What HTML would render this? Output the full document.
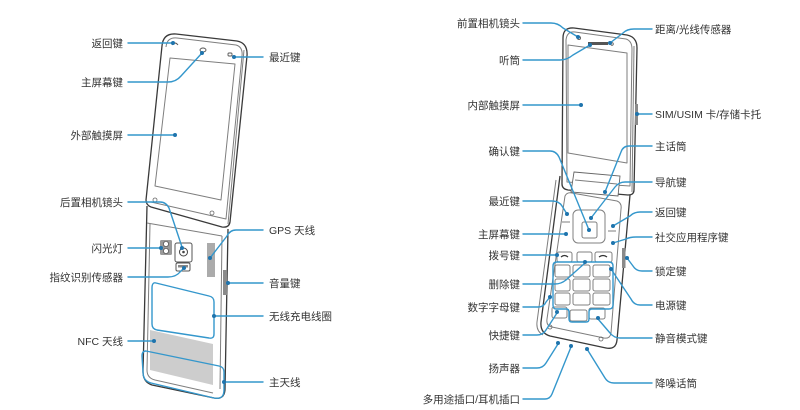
<!DOCTYPE html>
<html><head><meta charset="utf-8"><style>
html,body{margin:0;padding:0;background:#fff;}
svg{display:block;}
text{font-family:"Liberation Sans","Noto Sans CJK SC",sans-serif;font-size:10.5px;fill:#333;}
.ph{fill:none;stroke:#3a3a3a;stroke-width:1.3;stroke-linejoin:round;}
.pl{fill:none;stroke:#7e7e7e;stroke-width:1;stroke-linejoin:round;}
.bl{fill:none;stroke:#3497cc;stroke-width:1.4;stroke-linejoin:round;stroke-linecap:round;}
.dt{fill:#1f74ad;}
.ky{fill:#fff;stroke:#808080;stroke-width:1;}
</style></head><body>
<svg width="800" height="410" viewBox="0 0 800 410" xmlns="http://www.w3.org/2000/svg">
<!-- ========== LEFT PHONE ========== -->
<path class="ph" d="M147,206 L143,372 Q143,382 152,385 L214,398 Q224,400 225,390 L228,229"/>
<path class="pl" d="M147,223 L222,236"/>
<path class="pl" d="M222,236 L220,389"/>
<path class="pl" d="M150,224 L147,370 Q147,378 155,380 L213,393"/>
<polygon points="150,330 213,344 213,385 150,370" fill="#cdcdcd"/>
<rect x="160" y="240" width="12" height="15" rx="1.5" fill="#9a9a9a"/>
<circle cx="166" cy="244" r="2.6" fill="#fff" stroke="#555" stroke-width="0.8"/>
<circle cx="166" cy="251" r="2.6" fill="#fff" stroke="#555" stroke-width="0.8"/>
<rect x="175" y="243" width="17" height="19" rx="2" fill="#fff" stroke="#555" stroke-width="1"/>
<circle cx="183.5" cy="252" r="4" fill="#fff" stroke="#444" stroke-width="1"/>
<circle cx="183.5" cy="252" r="1.3" fill="#444"/>
<rect x="176" y="263" width="14" height="8" rx="1.5" fill="#fff" stroke="#555" stroke-width="1"/>
<rect x="178" y="265" width="10" height="2.5" fill="#888"/>
<rect x="207" y="243" width="8" height="34" fill="#ababab"/>
<rect x="223" y="270" width="4" height="25" fill="#8a8a8a"/>
<path d="M162,46 Q163,33 176,34 L237,41 Q248,43 247,56 L230,222 Q229,228 222,227 L151,207 Q146,205 146,200 Z" fill="#fff" stroke="#3a3a3a" stroke-width="1.3"/>
<path class="pl" d="M166,47 Q167,37 177,38 L236,45 Q243,47 242,56 L226,219 L151,202"/>
<path class="pl" d="M244,50 L228,224"/>
<polygon class="pl" points="170,58 235,64 221,200 155,186"/>
<path d="M172,45 q3,-4 6,0" fill="none" stroke="#555" stroke-width="0.9"/>
<ellipse cx="203" cy="50" rx="3" ry="2" fill="none" stroke="#555" stroke-width="0.9"/>
<rect x="228" y="53" width="4" height="3" rx="1" fill="none" stroke="#555" stroke-width="0.9"/>
<circle cx="155" cy="200" r="2" fill="none" stroke="#666" stroke-width="0.8"/>
<circle cx="212" cy="213" r="2" fill="none" stroke="#666" stroke-width="0.8"/>
<path class="bl" d="M156,283 L209,296 Q214,297 214,302 L214,334 Q214,339 209,338 L157,330 Q152,329 152,324 L152,288 Q152,282 156,283 Z"/>
<path class="bl" d="M146,351 Q142,351 142,356 L143,372 Q143,381 151,383 L214,398 Q224,400 224,390 L224,372 Q224,367 219,366 Z"/>

<path class="bl" d="M128,43 H173"/><circle class="dt" cx="173" cy="43" r="2"/>
<path class="bl" d="M128,82 H168 Q176,82 181,76 L202,53"/><circle class="dt" cx="202" cy="53" r="2"/>
<path class="bl" d="M128,135 H175"/><circle class="dt" cx="175" cy="135" r="2"/>
<path class="bl" d="M263,57 H234"/><circle class="dt" cx="234" cy="57" r="2"/>
<path class="bl" d="M128,202 H160 Q166,202 169,208 L182,247"/><circle class="dt" cx="182" cy="248" r="2"/>
<path class="bl" d="M128,248 H160"/><circle class="dt" cx="161" cy="248" r="2"/>
<path class="bl" d="M128,277 H168 Q176,277 180,272 L184,268"/><circle class="dt" cx="184" cy="268" r="2"/>
<path class="bl" d="M128,341 H154"/><circle class="dt" cx="154" cy="341" r="2"/>
<path class="bl" d="M263,230 H236 Q230,230 227,236 L210,258"/><circle class="dt" cx="210" cy="258" r="2"/>
<path class="bl" d="M263,283 H228"/><circle class="dt" cx="228" cy="283" r="2"/>
<path class="bl" d="M263,316 H214"/><circle class="dt" cx="214" cy="316" r="2"/>
<path class="bl" d="M263,382 H224"/><circle class="dt" cx="224" cy="382" r="2"/>

<text x="123" y="47" text-anchor="end">返回键</text>
<text x="123" y="86" text-anchor="end">主屏幕键</text>
<text x="123" y="139" text-anchor="end">外部触摸屏</text>
<text x="269" y="61">最近键</text>
<text x="123" y="206" text-anchor="end">后置相机镜头</text>
<text x="123" y="252" text-anchor="end">闪光灯</text>
<text x="123" y="281" text-anchor="end">指纹识别传感器</text>
<text x="123" y="345" text-anchor="end">NFC 天线</text>
<text x="269" y="234">GPS 天线</text>
<text x="269" y="287">音量键</text>
<text x="269" y="320">无线充电线圈</text>
<text x="269" y="386">主天线</text>

<!-- ========== RIGHT PHONE ========== -->
<path class="ph" d="M560,176 L541,322 Q540,333 550,336 L606,348 Q616,350 617,340 L630,195"/>
<path class="pl" d="M556,180 L537,322 Q536,331 543,335"/>
<path class="pl" d="M565,196 Q567,192 572,193 L617,201 Q622,203 621,209 L611,333 Q610,339 604,338 L552,327 Q546,326 547,319 Z"/>
<rect x="622" y="248" width="3.5" height="20" fill="#8a8a8a"/>
<rect class="ky" x="573" y="210" width="32" height="33" rx="5"/>
<rect class="ky" x="582" y="222" width="15" height="16" rx="2"/>
<path class="pl" d="M562,222 H570 M608,231 H616"/>
<rect class="ky" x="557" y="252" width="15" height="10" rx="2"/>
<rect class="ky" x="577" y="252" width="15" height="10" rx="2"/>
<rect class="ky" x="595" y="252" width="17" height="10" rx="2"/>
<path d="M561,257 q3.5,-3 7,0 M599,257 q4,-3 8,0" fill="none" stroke="#333" stroke-width="1.2"/>
<rect class="ky" x="555" y="265" width="15" height="12" rx="2"/>
<rect class="ky" x="573" y="265" width="17" height="12" rx="2"/>
<rect class="ky" x="593" y="265" width="17" height="12" rx="2"/>
<rect class="ky" x="555" y="279" width="15" height="12" rx="2"/>
<rect class="ky" x="573" y="279" width="17" height="12" rx="2"/>
<rect class="ky" x="593" y="279" width="17" height="12" rx="2"/>
<rect class="ky" x="555" y="293" width="15" height="12" rx="2"/>
<rect class="ky" x="573" y="293" width="17" height="12" rx="2"/>
<rect class="ky" x="593" y="293" width="17" height="12" rx="2"/>
<rect class="ky" x="552" y="307" width="15" height="11" rx="2"/>
<rect class="ky" x="570" y="310" width="17" height="11" rx="2"/>
<rect class="ky" x="589" y="308" width="16" height="11" rx="2"/>
<path class="bl" d="M557,262 H609 Q613,262 613,266 V305 Q613,309 609,309 H592 Q589,309 589,312 V319 Q589,322 586,322 H572 Q569,322 569,319 V312 Q569,309 566,309 H556 Q553,309 553,305 V266 Q553,262 557,262 Z"/>
<circle cx="550" cy="327" r="2" fill="none" stroke="#666" stroke-width="0.8"/>
<circle cx="601" cy="339" r="2" fill="none" stroke="#666" stroke-width="0.8"/>
<path d="M563,38 Q563,27 574,28 L627,35 Q637,37 637,48 L634,190 Q634,195 628,195 L568,190 Q562,189 562,184 Z" fill="#fff" stroke="#3a3a3a" stroke-width="1.3"/>
<path class="pl" d="M566,40 Q567,31 575,32 L626,39 Q632,41 632,49 L630,186 L567,182 Z"/>
<path class="pl" d="M634,46 L632,192"/>
<polygon class="pl" points="568,45 627,53 627,163 568,153"/>
<rect x="635" y="104" width="3" height="21" fill="#8a8a8a"/>
<rect x="588" y="42" width="20" height="3" fill="#555"/>
<circle cx="579" cy="38" r="1.6" fill="none" stroke="#555" stroke-width="0.8"/>
<circle cx="612" cy="44" r="1.3" fill="none" stroke="#555" stroke-width="0.8"/>
<polygon points="574,172 620,176 618,196 571,192" fill="#fff" stroke="#666" stroke-width="0.9"/>
<path class="pl" d="M575,180 L617,184"/>

<path class="bl" d="M523,23 H551 Q558,23 563,28 L578,37"/><circle class="dt" cx="578" cy="37" r="2"/>
<path class="bl" d="M523,60 H560 Q567,60 573,55 L590,45"/><circle class="dt" cx="590" cy="45" r="2"/>
<path class="bl" d="M523,105 H581"/><circle class="dt" cx="581" cy="105" r="2"/>
<path class="bl" d="M523,151 H550 Q556,151 559,157 L589,230"/><circle class="dt" cx="589" cy="230" r="2"/>
<path class="bl" d="M523,201 H552 Q559,201 562,206 L567,214"/><circle class="dt" cx="567" cy="214" r="2"/>
<path class="bl" d="M523,234 H566"/><circle class="dt" cx="566" cy="234" r="2"/>
<path class="bl" d="M523,255 H557"/><circle class="dt" cx="557" cy="255" r="2"/>
<path class="bl" d="M523,284 H555 Q561,284 566,280 L585,263"/><circle class="dt" cx="585" cy="262" r="2"/>
<path class="bl" d="M523,307 H538 Q544,307 546,302 L550,297"/><circle class="dt" cx="550" cy="297" r="2"/>
<path class="bl" d="M523,335 H537 Q543,335 546,330 L557,313"/><circle class="dt" cx="557" cy="312" r="2"/>
<path class="bl" d="M523,368 H537 Q543,368 546,363 L558,344"/><circle class="dt" cx="558" cy="343" r="2"/>
<path class="bl" d="M523,399 H545 Q550,399 552,394 L571,347"/><circle class="dt" cx="571" cy="346" r="2"/>
<path class="bl" d="M652,29 H634 Q627,29 623,33 L610,43"/><circle class="dt" cx="610" cy="43" r="2"/>
<path class="bl" d="M652,114 H637"/><circle class="dt" cx="637" cy="114" r="2"/>
<path class="bl" d="M652,146 H629 Q623,146 621,152 L605,192"/><circle class="dt" cx="605" cy="192" r="2"/>
<path class="bl" d="M652,182 H625 Q619,182 615,187 L591,218"/><circle class="dt" cx="591" cy="218" r="2"/>
<path class="bl" d="M652,212 H640 Q634,212 630,216 L613,226"/><circle class="dt" cx="613" cy="226" r="2"/>
<path class="bl" d="M652,237 H636 Q630,237 626,239 L613,243"/><circle class="dt" cx="613" cy="243" r="2"/>
<path class="bl" d="M652,271 H642 Q636,271 633,266 L627,258"/><circle class="dt" cx="627" cy="258" r="2"/>
<path class="bl" d="M652,305 H640 Q634,305 631,299 L611,269"/><circle class="dt" cx="611" cy="269" r="2"/>
<path class="bl" d="M652,338 H620 Q614,338 610,333 L598,319"/><circle class="dt" cx="598" cy="318" r="2"/>
<path class="bl" d="M652,383 H614 Q608,383 605,378 L587,349"/><circle class="dt" cx="587" cy="349" r="2"/>

<text x="520" y="27" text-anchor="end">前置相机镜头</text>
<text x="520" y="64" text-anchor="end">听筒</text>
<text x="520" y="109" text-anchor="end">内部触摸屏</text>
<text x="520" y="155" text-anchor="end">确认键</text>
<text x="520" y="205" text-anchor="end">最近键</text>
<text x="520" y="238" text-anchor="end">主屏幕键</text>
<text x="520" y="259" text-anchor="end">拨号键</text>
<text x="520" y="288" text-anchor="end">删除键</text>
<text x="520" y="311" text-anchor="end">数字字母键</text>
<text x="520" y="339" text-anchor="end">快捷键</text>
<text x="520" y="372" text-anchor="end">扬声器</text>
<text x="520" y="403" text-anchor="end">多用途插口/耳机插口</text>
<text x="655" y="33">距离/光线传感器</text>
<text x="655" y="118">SIM/USIM 卡/存储卡托</text>
<text x="655" y="150">主话筒</text>
<text x="655" y="186">导航键</text>
<text x="655" y="216">返回键</text>
<text x="655" y="241">社交应用程序键</text>
<text x="655" y="275">锁定键</text>
<text x="655" y="309">电源键</text>
<text x="655" y="342">静音模式键</text>
<text x="655" y="387">降噪话筒</text>
</svg>
</body></html>
